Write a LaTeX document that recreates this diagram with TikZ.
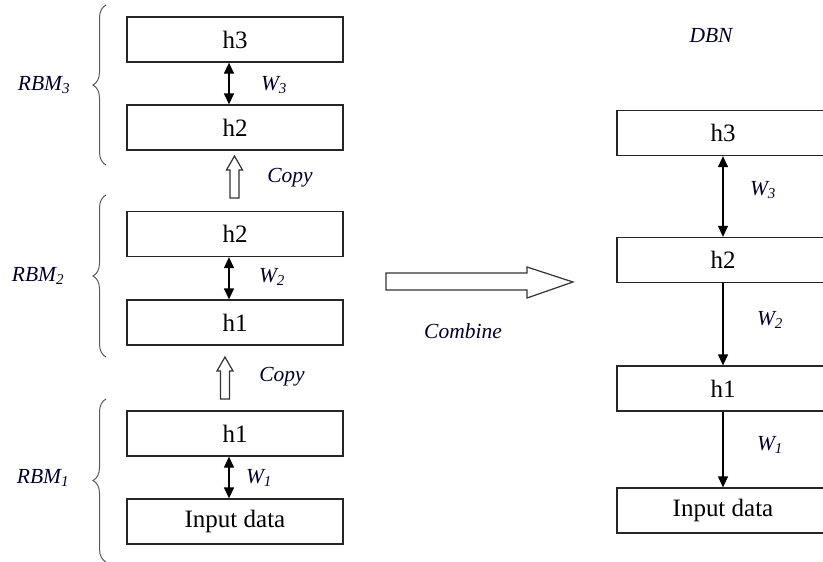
\documentclass[tikz,border=0pt]{standalone}
\usepackage{fontspec}
\setmainfont{Liberation Serif}
\usetikzlibrary{arrows.meta,decorations.pathreplacing}
\begin{document}
\begin{tikzpicture}[x=1pt,y=-1pt,
 box/.style={draw=black!85,line width=1.3pt,minimum width=216pt,minimum height=45pt,inner sep=0pt,font=\fontsize{25}{25}\selectfont},
 rbox/.style={box,minimum width=212pt},
 lbl/.style={inner sep=0pt,text=black!85!blue,font=\fontsize{21.5}{21.5}\selectfont\itshape},
 dbl/.style={line width=1.3pt,{Triangle[length=11pt,width=10pt]}-{Triangle[length=11pt,width=10pt]}},
 one/.style={line width=1.3pt,-{Triangle[length=11pt,width=10pt]}},
 hollow/.style={draw=black!80,line width=1.2pt,fill=white,line join=miter},
 brc/.style={draw=black!65,line width=1pt,decorate,decoration={brace,amplitude=13pt}}]
\clip (0,0) rectangle (823,562);
% left column
\node[box] (L3) at (235,39.5) {h3};
\node[box] (L2a) at (235,127.5) {h2};
\node[box] (L2b) at (235,234) {h2};
\node[box] (L1b) at (235,322.5) {h1};
\node[box] (L1a) at (235,433.5) {h1};
\node[box] (Lin) at (235,521.5) {Input data};
\draw[dbl] ([xshift=-6pt]L3.south) -- ([xshift=-6pt]L2a.north);
\draw[dbl] ([xshift=-6pt]L2b.south) -- ([xshift=-6pt]L1b.north);
\draw[dbl] ([xshift=-6pt]L1a.south) -- ([xshift=-6pt]Lin.north);
\node[lbl] (w3l) at (274,85) {W\textsubscript{3}};
\node[lbl] (w2l) at (272,277) {W\textsubscript{2}};
\node[lbl] (w1l) at (259,478) {W\textsubscript{1}};
% copy arrows
\draw[hollow] (230,198) -- (230,170) -- (226.5,170) -- (234.5,156) -- (242.5,170) -- (239,170) -- (239,198) -- cycle;
\draw[hollow] (220.5,399) -- (220.5,371) -- (217,371) -- (225,357) -- (233,371) -- (229.5,371) -- (229.5,399) -- cycle;
\node[lbl] (c1) at (290,178) {Copy};
\node[lbl] (c2) at (282,377) {Copy};
% braces
\draw[brc] (106,165) -- (106,5);
\draw[brc] (106,357) -- (106,195);
\draw[brc] (106,562) -- (106,399);
\node[lbl] (r3) at (44,85) {RBM\textsubscript{3}};
\node[lbl] (r2) at (38,276) {RBM\textsubscript{2}};
\node[lbl] (r1) at (43,478) {RBM\textsubscript{1}};
% combine arrow
\draw[hollow] (386,273) -- (527,273) -- (527,267) -- (573,282) -- (527,298) -- (527,290) -- (386,290) -- cycle;
\node[lbl] (comb) at (463,331) {Combine};
% right column
\node[lbl] (dbn) at (711,35) {DBN};
\node[rbox] (R3) at (723,133) {h3};
\node[rbox] (R2) at (723,260) {h2};
\node[rbox] (R1) at (723,388.5) {h1};
\node[rbox] (Rin) at (723,510.5) {Input data};
\draw[dbl] (R3.south) -- (R2.north);
\draw[one] (R2.south) -- (R1.north);
\draw[one] (R1.south) -- (Rin.north);
\node[lbl] (rw3) at (763,190) {W\textsubscript{3}};
\node[lbl] (rw2) at (770,320) {W\textsubscript{2}};
\node[lbl] (rw1) at (770,445) {W\textsubscript{1}};
\end{tikzpicture}
\end{document}
